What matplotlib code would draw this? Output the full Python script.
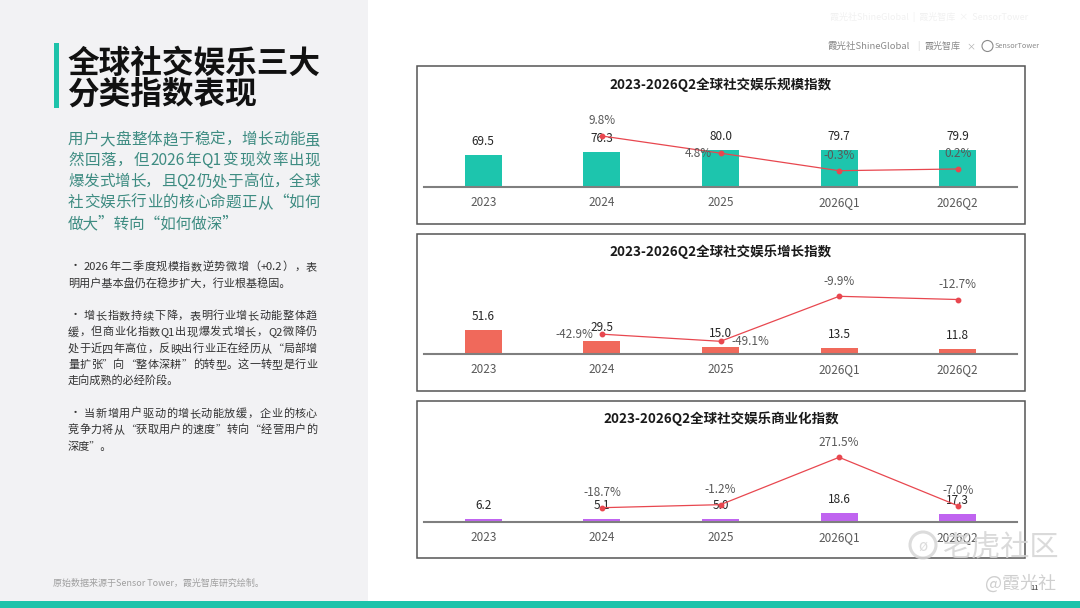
import re
import matplotlib
matplotlib.use('Agg')
import matplotlib.pyplot as plt
from matplotlib.patches import Rectangle, Circle
from matplotlib.font_manager import findfont, FontProperties
from matplotlib.ft2font import FT2Font

FAM = ['Noto Sans CJK SC', 'DejaVu Sans']
plt.rcParams['font.family'] = FAM

# ---------------- data ----------------
categories = ['2023', '2024', '2025', '2026Q1', '2026Q2']
scale_index = [69.5, 76.3, 80.0, 79.7, 79.9]
scale_growth = [None, 9.8, 4.8, -0.3, 0.2]
growth_index = [51.6, 29.5, 15.0, 13.5, 11.8]
growth_growth = [None, -42.9, -49.1, -9.9, -12.7]
comm_index = [6.2, 5.1, 5.0, 18.6, 17.3]
comm_growth = [None, -18.7, -1.2, 271.5, -7.0]

panel_titles = ['2023-2026Q2全球社交娱乐规模指数',
                '2023-2026Q2全球社交娱乐增长指数',
                '2023-2026Q2全球社交娱乐商业化指数']

main_title = ['全球社交娱乐三大', '分类指数表现']
subtitle = ['用户大盘整体趋于稳定，增长动能虽',
            '然回落，但2026年Q1变现效率出现',
            '爆发式增长，且Q2仍处于高位，全球',
            '社交娱乐行业的核心命题正从“如何',
            '做大”转向“如何做深”']
bullets = [
    ['2026年二季度规模指数逆势微增（+0.2），表',
     '明用户基本盘仍在稳步扩大，行业根基稳固。'],
    ['增长指数持续下降，表明行业增长动能整体趋',
     '缓，但商业化指数Q1出现爆发式增长，Q2微降仍',
     '处于近四年高位，反映出行业正在经历从“局部增',
     '量扩张”向“整体深耕”的转型。这一转型是行业',
     '走向成熟的必经阶段。'],
    ['当新增用户驱动的增长动能放缓，企业的核心',
     '竞争力将从“获取用户的速度”转向“经营用户的',
     '深度”。'],
]
footer = '原始数据来源于Sensor Tower，霞光智库研究绘制。'

# ---------------- figure ----------------
W, H = 1080, 608
fig = plt.figure(figsize=(W / 100, H / 100), dpi=100)
bg = fig.add_axes([0, 0, 1, 1])
bg.set_xlim(0, W)
bg.set_ylim(H, 0)
bg.axis('off')

bg.add_patch(Rectangle((0, 0), 368, 601, facecolor='#f2f2f4', edgecolor='none'))
bg.add_patch(Rectangle((0, 601), W, 7, facecolor='#1dc3aa', edgecolor='none'))
bg.add_patch(Rectangle((54, 43), 5, 65, facecolor='#1dc3aa', edgecolor='none'))

_cache = {}


def metrics(size, weight):
    key = (size, weight)
    if key in _cache:
        return _cache[key]
    path = findfont(FontProperties(family='Noto Sans CJK SC', weight=weight))
    f = FT2Font(path)
    f.set_size(size, 100)
    em = size * 100 / 72
    g = f.load_char(ord('一'))
    ra = (g.linearHoriAdvance / 65536) / em

    def adv(ch):
        gg = f.load_char(ord(ch))
        return (gg.linearHoriAdvance / 65536) / ra
    _cache[key] = adv
    return adv


def draw_line(x0, y, s, size, color, weight='normal', x1=None):
    if x1 is None:
        bg.text(x0, y, s, fontsize=size, color=color, fontweight=weight,
                ha='left', va='baseline')
        return
    try:
        adv = metrics(size, weight)
        toks = re.findall(r'[A-Za-z0-9.+\-]+|\s+|.', s)
        info = [(t, sum(adv(c) for c in t)) for t in toks]
        total = sum(a for _, a in info)
        gap = (x1 - x0 - total) / max(len(info) - 1, 1)
        x = x0
        for t, a in info:
            if not t.isspace():
                bg.text(x + a / 2, y, t, fontsize=size, color=color, fontweight=weight,
                        ha='center', va='baseline')
            x += a + gap
    except Exception:
        bg.text(x0, y, s, fontsize=size, color=color, fontweight=weight,
                ha='left', va='baseline')


# title
draw_line(67, 72.5, main_title[0], 22.8, '#111111', 'bold')
draw_line(67, 104, main_title[1], 22.8, '#111111', 'bold')

# subtitle
sub_base = [144, 165, 186, 207, 228]
for i, (s, yb) in enumerate(zip(subtitle, sub_base)):
    draw_line(68, yb, s, 11.2, '#3e8c82', 'normal',
              x1=320 if i < len(subtitle) - 1 else None)

# bullets
bullet_base = [[270.2, 286.7],
               [318.7, 335.2, 351.7, 368.2, 384.7],
               [416.7, 433.2, 449.7]]
for para, ys in zip(bullets, bullet_base):
    for j, (s, yb) in enumerate(zip(para, ys)):
        last = j == len(para) - 1
        if j == 0:
            bg.text(75, yb - 4, '・', fontsize=8, color='#333333', ha='center', va='center')
            draw_line(84, yb, s, 8, '#333333', x1=None if last else 317)
        else:
            draw_line(68, yb, s, 8, '#333333', x1=None if last else 317)

bg.text(53, 586, footer, fontsize=6.5, color='#a0a0a0', ha='left', va='baseline')

# top right credits
cred = '#8a8a8a'
bg.text(827, 49, '霞光社ShineGlobal', fontsize=6.8, color=cred, ha='left', va='baseline')
bg.text(918, 49, '|', fontsize=6, color='#c8c8c8', ha='center', va='baseline')
bg.text(924, 49, '霞光智库', fontsize=6.5, color=cred, ha='left', va='baseline')
bg.text(971, 49, '×', fontsize=6.5, color='#b0b0b0', ha='center', va='baseline')
bg.add_patch(Circle((987.5, 46), 5.5, facecolor='none', edgecolor=cred, lw=0.8))
bg.text(994.5, 48.5, 'SensorTower', fontsize=5.3, color=cred, ha='left', va='baseline')
bg.text(830, 20, '霞光社ShineGlobal  |  霞光智库  ×  SensorTower', fontsize=6.5,
        color='#f1f1f1', ha='left', va='baseline')

# ---------------- charts ----------------
panels = [
    dict(vals=scale_index, gr=scale_growth, color='#1dc5ad', top=66, bot=223.5,
         base=186.7, title_y=84.3, ylim2=(-4.96, 20.28),
         pos=[None, 'above', 'left', 'above', 'above']),
    dict(vals=growth_index, gr=growth_growth, color='#f0695b', top=233.7, bot=390.7,
         base=354.0, title_y=252, ylim2=(-60.16, 15.36),
         pos=[None, 'left', 'right', 'above', 'above']),
    dict(vals=comm_index, gr=comm_growth, color='#c064f0', top=401, bot=558.3,
         base=521.7, title_y=418.3, ylim2=(-99.3, 399.9),
         pos=[None, 'above', 'above', 'above', 'above']),
]

AX_L, AX_R, AX_H = 424, 1017, 86.7
PX = 0.72  # points per pixel

for p, title in zip(panels, panel_titles):
    bg.add_patch(Rectangle((416.7, p['top']), 1025 - 416.7, p['bot'] - p['top'],
                           facecolor='white', edgecolor='#555555', lw=1.1))
    bg.text((416.7 + 1025) / 2, p['title_y'], title, fontsize=9.7, fontweight='bold',
            color='#1a1a1a', ha='center', va='center')

    ax = fig.add_axes([AX_L / W, 1 - p['base'] / H, (AX_R - AX_L) / W, AX_H / H])
    ax.patch.set_visible(False)
    x = list(range(len(categories)))
    ax.bar(x, p['vals'], width=0.312, color=p['color'], zorder=2)
    ax.set_xlim(-0.5, len(categories) - 0.5)
    ax.set_ylim(0, 190)
    for sp in ['top', 'left', 'right']:
        ax.spines[sp].set_visible(False)
    ax.spines['bottom'].set_color('#7f7f7f')
    ax.spines['bottom'].set_linewidth(1.5)
    ax.set_yticks([])
    ax.set_xticks(x, categories)
    ax.tick_params(axis='x', length=0, pad=15.5 * PX, labelsize=8.5, labelcolor='#595959')
    for lb in ax.get_xticklabels():
        lb.set_va('center')
    for xi, v in zip(x, p['vals']):
        ax.annotate(f'{v:.1f}', (xi, v), xytext=(0, 13.5 * PX), textcoords='offset points',
                    ha='center', va='center', fontsize=8.5, color='#262626', zorder=3)

    ax2 = ax.twinx()
    ax2.patch.set_visible(False)
    ax2.set_ylim(*p['ylim2'])
    for sp in ax2.spines.values():
        sp.set_visible(False)
    ax2.set_yticks([])
    gx = [xi for xi, g in zip(x, p['gr']) if g is not None]
    gy = [g for g in p['gr'] if g is not None]
    ax2.plot(gx, gy, color='#e8474f', lw=0.9, marker='o', ms=3.2, zorder=4)
    for xi, g, ps in zip(x, p['gr'], p['pos']):
        if g is None:
            continue
        if ps == 'above':
            off, ha = (0, 15 * PX), 'center'
        elif ps == 'left':
            off, ha = (-9 * PX, 0), 'right'
        else:
            off, ha = (11 * PX, 0), 'left'
        ax2.annotate(f'{g:.1f}%', (xi, g), xytext=off, textcoords='offset points',
                     ha=ha, va='center', fontsize=8.5, color='#595959', zorder=5)

# watermarks (overlay in pixel coordinates)
ov = fig.add_axes([0, 0, 1, 1])
ov.set_xlim(0, W)
ov.set_ylim(H, 0)
ov.axis('off')
ov.patch.set_visible(False)
ov.add_patch(Circle((923, 545), 13, facecolor='none', edgecolor='#d6d6d6', lw=2.2, alpha=0.85))
ov.text(923, 546, 'ø', fontsize=11, color='#d6d6d6', alpha=0.85, ha='center', va='center')
ov.text(942, 556, '老虎社区', fontsize=21, color='#d4d4d4', alpha=0.85,
        ha='left', va='baseline')
ov.text(985, 589, '@霞光社', fontsize=13, color='#cfcfcf', ha='left', va='baseline')
ov.text(1030, 590, '11', fontsize=5.5, color='#444444', ha='left', va='baseline')

fig.savefig('out.png', dpi=100)
